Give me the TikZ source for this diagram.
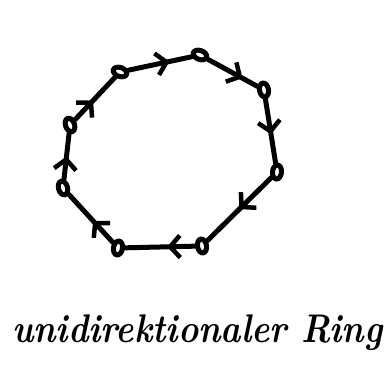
\documentclass[tikz,border=0pt]{standalone}
\usetikzlibrary{shapes.geometric,arrows.meta,decorations.markings}

\begin{document}
\begin{tikzpicture}[
    x=1pt, y=-1pt,
    ringnode/.style={ellipse, draw, line width=5pt, minimum width=9pt, minimum height=14pt, inner sep=0pt},
    arrow/.style={line width=5pt, line cap=round, postaction={decorate},
        decoration={markings, mark=at position #1 with {\arrow{Straight Barb[length=10pt,width=22pt,line width=4.5pt]}}}},
    arrow/.default=0.5
]
    \useasboundingbox (0,0) rectangle (386,374);

    \node[ringnode, rotate=70] (a) at (120,72) {};
    \node[ringnode, rotate=70] (b) at (200,55) {};
    \node[ringnode, rotate=10] (c) at (264,90) {};
    \node[ringnode, rotate=-5] (d) at (277,172) {};
    \node[ringnode, rotate=10] (e) at (202,246) {};
    \node[ringnode, rotate=-10] (f) at (118,248) {};
    \node[ringnode, rotate=15] (g) at (63,188) {};
    \node[ringnode, rotate=20] (h) at (70,125) {};

    \draw[arrow=0.65] (a) -- (b);
    \draw[arrow=0.7] (b) -- (c);
    \draw[arrow=0.55] (c) -- (d);
    \draw[arrow=0.5] (d) -- (e);
    \draw[arrow=0.4] (e) -- (f);
    \draw[arrow=0.45] (f) -- (g);
    \draw[arrow=0.5] (g) -- (h);
    \draw[arrow=0.45] (h) -- (a);

    \node[anchor=base west, inner sep=0pt, xscale=0.86, font=\fontsize{40}{44}\selectfont] (title) at (12,343) {\textbf{\textit{unidirektionaler Ring}}};
\end{tikzpicture}
\end{document}
